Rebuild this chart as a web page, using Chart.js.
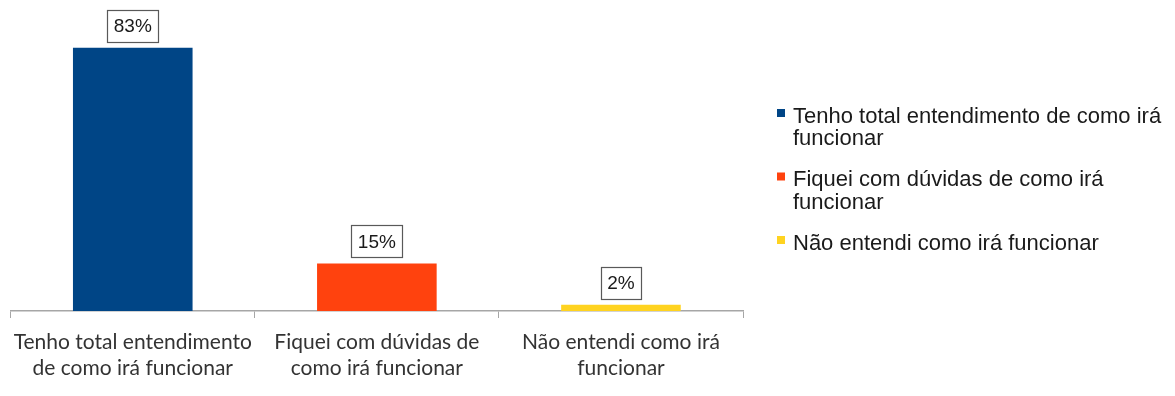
<!DOCTYPE html>
<html>
<head>
<meta charset="utf-8">
<script src="https://cdn.jsdelivr.net/npm/chart.js@4/dist/chart.umd.min.js"></script>
<style>
  html, body { margin: 0; padding: 0; background: #ffffff; }
  #wrap { width: 1175px; height: 396px; position: relative; }
</style>
</head>
<body>
<div id="wrap"><canvas id="c" width="1175" height="396"></canvas></div>
<script>
// ---- data ----
const categories = [
  ["Tenho total entendimento", "de como irá funcionar"],
  ["Fiquei com dúvidas de", "como irá funcionar"],
  ["Não entendi como irá", "funcionar"]
];
const values = [83, 15, 2];
const legendLabels = [
  ["Tenho total entendimento de como irá", "funcionar"],
  ["Fiquei com dúvidas de como irá", "funcionar"],
  ["Não entendi como irá funcionar"]
];
const barColors = ["#004586", "#ff420e", "#ffd320"];
const yMax = 90;

// ---- plugins ----
const valueLabels = {
  id: 'valueLabels',
  afterDatasetsDraw(chart) {
    const ctx = chart.ctx;
    const meta = chart.getDatasetMeta(0);
    ctx.save();
    ctx.font = '19px "Liberation Sans", Arial, sans-serif';
    ctx.textAlign = 'center';
    ctx.textBaseline = 'middle';
    meta.data.forEach((bar, i) => {
      const txt = values[i] + '%';
      const w = ctx.measureText(txt).width + 13;
      const h = 32;
      const bottom = bar.y - 6;
      const x0 = Math.round(bar.x - w / 2) + 0.5;
      const y0 = Math.round(bottom - h) + 0.5;
      ctx.fillStyle = '#ffffff';
      ctx.fillRect(x0, y0, Math.round(w), h);
      ctx.strokeStyle = '#595959';
      ctx.lineWidth = 1.2;
      ctx.strokeRect(x0, y0, Math.round(w), h);
      ctx.fillStyle = '#1a1a1a';
      ctx.fillText(txt, bar.x, bottom - h / 2 + 1);
    });
    ctx.restore();
  }
};

const sideLegend = {
  id: 'sideLegend',
  afterDraw(chart) {
    const ctx = chart.ctx;
    const boxX = chart.chartArea.right + 34;
    const textX = boxX + 16;
    const lineH = 22.5;
    const gap = 18.5;
    let baseline = 122.5;
    ctx.save();
    ctx.font = '22px "Liberation Sans", Arial, sans-serif';
    ctx.textAlign = 'left';
    ctx.textBaseline = 'alphabetic';
    legendLabels.forEach((lines, i) => {
      ctx.fillStyle = barColors[i];
      ctx.fillRect(boxX, baseline - 13.5, 8, 8);
      ctx.fillStyle = '#1a1a1a';
      lines.forEach((ln, j) => {
        ctx.fillText(ln, textX, baseline + j * lineH);
      });
      baseline += lines.length * lineH + gap;
    });
    ctx.restore();
  }
};

new Chart(document.getElementById('c'), {
  type: 'bar',
  data: {
    labels: categories,
    datasets: [{
      data: values,
      backgroundColor: barColors,
      borderWidth: 0,
      categoryPercentage: 1.0,
      barPercentage: 0.49
    }]
  },
  options: {
    responsive: false,
    animation: false,
    devicePixelRatio: 1,
    layout: { padding: { left: 10, right: 432, top: 25.5, bottom: 0 } },
    plugins: {
      legend: { display: false },
      tooltip: { enabled: false }
    },
    scales: {
      x: {
        grid: {
          offset: true,
          drawOnChartArea: false,
          drawTicks: true,
          tickLength: 7,
          color: '#a6a6a6'
        },
        border: { display: true, color: '#a6a6a6', width: 1.5 },
        ticks: {
          color: '#333333',
          font: { family: 'Lato, "Open Sans", sans-serif', size: 21, lineHeight: 1.2 },
          padding: 12,
          maxRotation: 0,
          autoSkip: false
        },
        afterFit(scale) { scale.height = 85; }
      },
      y: {
        display: false,
        min: 0,
        max: yMax
      }
    }
  },
  plugins: [valueLabels, sideLegend]
});
</script>
</body>
</html>
